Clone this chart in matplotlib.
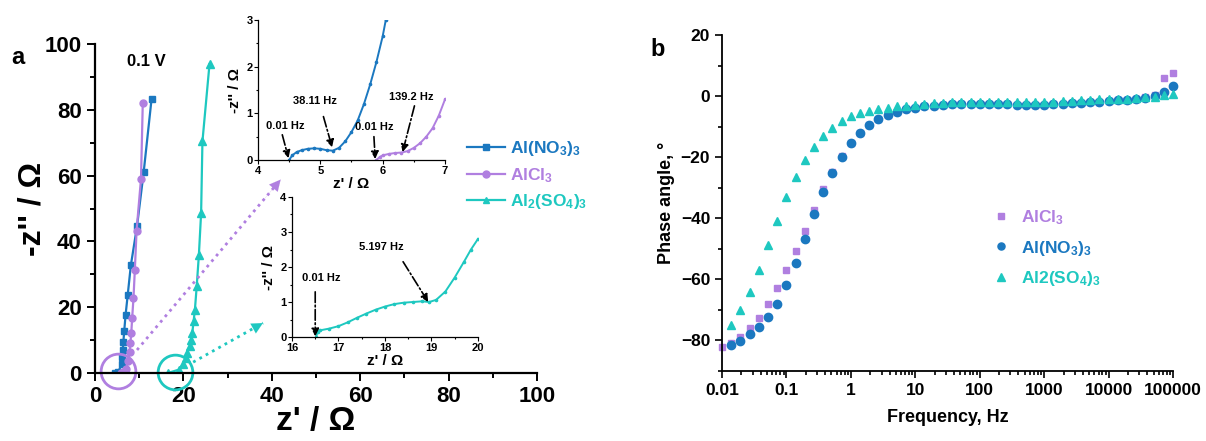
"""Nyquist plots (a) and Bode phase plot (b) for three Al electrolytes at 0.1 V."""
import numpy as np
import matplotlib
matplotlib.use('Agg')
import matplotlib.pyplot as plt
from matplotlib.ticker import MultipleLocator, FixedLocator, LogLocator, NullFormatter
from matplotlib.lines import Line2D

plt.rcParams['font.family'] = ['Liberation Sans', 'DejaVu Sans']
plt.rcParams['font.weight'] = 'bold'
plt.rcParams['axes.labelweight'] = 'bold'
plt.rcParams['mathtext.fontset'] = 'custom'
plt.rcParams['mathtext.rm'] = 'Liberation Sans:bold'
plt.rcParams['mathtext.it'] = 'Liberation Sans:bold'
plt.rcParams['mathtext.bf'] = 'Liberation Sans:bold'

BLUE = '#1b78c0'
PURPLE = '#b07fe0'
CYAN = '#1ec8c0'

# ---- panel a, main Nyquist data (z' , -z'') ----
no3_re = [4.5, 5.2, 6.0, 6.2, 6.3, 6.4, 6.6, 6.9, 7.4, 8.1, 9.5, 11.0, 12.8]
no3_im = [0.0, 0.2, 2.6, 5.0, 7.0, 9.3, 12.7, 17.5, 23.8, 32.7, 44.6, 61.0, 83.4]
cl_re = [5.9, 6.4, 7.0, 7.5, 7.8, 8.0, 8.2, 8.4, 8.7, 9.0, 9.4, 10.4, 10.8]
cl_im = [0.0, 0.2, 1.3, 3.5, 6.5, 9.1, 12.2, 16.7, 22.8, 31.2, 43.3, 59.0, 82.0]
so4_re = [16.5, 18.9, 20.0, 20.5, 20.9, 21.4, 21.8, 22.0, 22.3, 22.6, 23.0, 23.5, 24.0, 24.3, 25.9]
so4_im = [0.0, 1.0, 2.8, 4.6, 6.1, 8.1, 10.1, 12.2, 15.7, 19.3, 26.3, 36.0, 48.6, 70.4, 93.9]

# ---- inset 1 (high-frequency region, NO3 and Cl) ----
in_no3_re = [4.50, 4.55, 4.62, 4.70, 4.80, 4.90, 5.00, 5.10, 5.20, 5.30, 5.40, 5.50,
             5.60, 5.70, 5.80, 5.90, 6.00, 6.05]
in_no3_im = [0.00, 0.10, 0.17, 0.21, 0.24, 0.25, 0.24, 0.21, 0.20, 0.26, 0.40, 0.60,
             0.85, 1.20, 1.62, 2.10, 2.65, 3.00]
in_cl_re = [5.90, 5.95, 6.00, 6.10, 6.20, 6.30, 6.40, 6.50, 6.60, 6.70, 6.80, 6.90, 7.00]
in_cl_im = [0.00, 0.06, 0.10, 0.13, 0.15, 0.16, 0.19, 0.26, 0.36, 0.50, 0.68, 0.95, 1.30]

# ---- inset 2 (high-frequency region, SO4) ----
in_so4_re = [16.52, 16.55, 16.60, 16.80, 17.00, 17.20, 17.40, 17.60, 17.80, 18.00, 18.20,
             18.40, 18.60, 18.80, 18.95, 19.10, 19.30, 19.50, 19.70, 19.85, 20.00]
in_so4_im = [0.00, 0.15, 0.19, 0.24, 0.31, 0.42, 0.55, 0.67, 0.78, 0.87, 0.94,
             0.98, 1.00, 1.02, 1.00, 1.06, 1.30, 1.70, 2.15, 2.50, 2.80]

# ---- panel b, phase angle vs frequency ----
freq = [0.01, 0.0139, 0.0193, 0.0268, 0.0373, 0.0518, 0.072,
        0.1, 0.139, 0.193, 0.268, 0.373, 0.518, 0.72,
        1, 1.39, 1.93, 2.68, 3.73, 5.18, 7.2,
        10, 13.9, 19.3, 26.8, 37.3, 51.8, 72,
        100, 139, 193, 268, 373, 518, 720,
        1000, 1390, 1930, 2680, 3730, 5180, 7200,
        10000, 13900, 19300, 26800, 37300, 51800, 72000,
        100000]
phase_cl = [-82.0, -80.7, -78.8, -76.0, -72.6, -68.2, -62.9,
            -56.9, -50.6, -44.1, -37.3, -30.5, -24.8, -19.6,
            -15.4, -12.1, -9.5, -7.5, -6.1, -5.1, -4.3,
            -3.8, -3.4, -3.1, -2.9, -2.7, -2.6, -2.6,
            -2.6, -2.6, -2.7, -2.7, -2.8, -2.8, -2.8,
            -2.8, -2.7, -2.6, -2.4, -2.2, -2.0, -1.8,
            -1.6, -1.4, -1.2, -0.9, -0.4, 0.5, 5.8,
            7.7]
# NO3 and SO4 start at the second frequency
phase_no3 = [-81.5, -80.1, -78.0, -75.7, -72.2, -68.1,
             -61.8, -54.8, -46.9, -38.6, -31.3, -25.3, -19.8,
             -15.5, -12.2, -9.5, -7.5, -6.2, -5.1, -4.3,
             -3.8, -3.4, -3.1, -2.9, -2.7, -2.6, -2.6,
             -2.6, -2.6, -2.7, -2.7, -2.8, -2.8, -2.8,
             -2.8, -2.7, -2.6, -2.4, -2.2, -2.0, -1.8,
             -1.6, -1.4, -1.2, -0.9, -0.5, 0.0, 1.5,
             3.3]
phase_so4 = [-74.8, -70.0, -64.1, -56.9, -48.8, -40.8,
             -33.1, -26.4, -20.9, -16.6, -13.1, -10.3, -8.1,
             -6.4, -5.4, -4.8, -4.3, -3.8, -3.4, -3.2,
             -3.0, -2.7, -2.4, -2.2, -2.0, -1.9, -1.9,
             -1.9, -1.9, -1.9, -2.0, -2.0, -2.0, -2.0,
             -1.9, -1.8, -1.7, -1.6, -1.4, -1.3, -1.1,
             -1.0, -0.9, -0.8, -0.6, -0.4, -0.2, 0.2,
             0.6]

fig = plt.figure(figsize=(12.06, 4.41), dpi=100)


def style_axis(ax, lw, size, width):
    for side in ('top', 'right'):
        ax.spines[side].set_visible(False)
    for side in ('left', 'bottom'):
        ax.spines[side].set_linewidth(lw)
    ax.tick_params(which='major', direction='out', length=size, width=width)
    ax.tick_params(which='minor', direction='out', length=size * 0.55, width=width)


def dotted_arrow(ax, start, end, color):
    ax.plot([start[0], end[0]], [start[1], end[1]], color=color, lw=2,
            ls=(0, (1, 1.6)), clip_on=False)
    back = (end[0] - 0.12 * (end[0] - start[0]), end[1] - 0.12 * (end[1] - start[1]))
    ax.annotate('', xy=end, xytext=back,
                arrowprops=dict(arrowstyle='-|>', lw=0.1, color=color,
                                mutation_scale=20, shrinkA=0, shrinkB=0))


# ---------- panel a ----------
ax = fig.add_axes([0.0788, 0.1542, 0.3665, 0.746])
ax.plot(no3_re, no3_im, '-s', color=BLUE, lw=1.6, ms=5)
ax.plot(cl_re, cl_im, '-o', color=PURPLE, lw=1.6, ms=5)
ax.plot(so4_re, so4_im, '-^', color=CYAN, lw=1.6, ms=5.5)
ax.set_xlim(0, 100)
ax.set_ylim(0, 100)
ax.xaxis.set_major_locator(MultipleLocator(20))
ax.xaxis.set_minor_locator(MultipleLocator(10))
ax.yaxis.set_major_locator(MultipleLocator(20))
ax.yaxis.set_minor_locator(MultipleLocator(10))
style_axis(ax, 1.6, 6, 1.4)
ax.tick_params(labelsize=16)
ax.set_xlabel("z' / \u03a9", fontsize=24, labelpad=-1)
ax.set_ylabel("-z'' / \u03a9", fontsize=23, labelpad=-2)

# circles marking the zoomed regions
ax.plot([5.2], [0.6], 'o', ms=25, mfc='none', mec=PURPLE, mew=2, clip_on=False)
ax.plot([18.1], [0.3], 'o', ms=25, mfc='none', mec=CYAN, mew=2, clip_on=False)
dotted_arrow(ax, (9.5, 7.0), (42.0, 58.8), PURPLE)
dotted_arrow(ax, (22.2, 3.3), (38.0, 15.2), CYAN)

handles = [Line2D([], [], color=BLUE, marker='s', lw=1.6, ms=5),
           Line2D([], [], color=PURPLE, marker='o', lw=1.6, ms=5),
           Line2D([], [], color=CYAN, marker='^', lw=1.6, ms=5)]
labels = [r'Al(NO$_3$)$_3$', r'AlCl$_3$', r'Al$_2$(SO$_4$)$_3$']
fig.legend(handles, labels, loc='upper left', bbox_to_anchor=(0.374, 0.72),
           frameon=False, fontsize=12.5, labelcolor='linecolor', handlelength=2.2,
           handletextpad=0.3, labelspacing=0.45)

fig.text(0.015, 0.87, 'a', fontsize=17, ha='center', va='center')
fig.text(0.121, 0.86, '0.1 V', fontsize=12, ha='center', va='center')


def inset_annot(axi, text, txy, start, end):
    axi.text(txy[0], txy[1], text, fontsize=8, ha='center', va='center')
    axi.annotate('', xy=end, xytext=start,
                 arrowprops=dict(arrowstyle='-|>', linestyle='-.', lw=1.2, color='k',
                                 mutation_scale=11, shrinkA=0, shrinkB=0))


# ---------- inset 1 ----------
ax1 = fig.add_axes([0.2139, 0.6372, 0.1551, 0.3174])
ax1.plot(in_no3_re, in_no3_im, '-o', color=BLUE, lw=1.4, ms=1.6)
ax1.plot(in_cl_re, in_cl_im, '-o', color=PURPLE, lw=1.4, ms=1.6)
ax1.set_xlim(4, 7)
ax1.set_ylim(0, 3)
ax1.xaxis.set_major_locator(MultipleLocator(1))
ax1.xaxis.set_minor_locator(MultipleLocator(0.5))
ax1.yaxis.set_major_locator(MultipleLocator(1))
ax1.yaxis.set_minor_locator(MultipleLocator(0.5))
style_axis(ax1, 0.9, 3, 0.8)
ax1.tick_params(labelsize=8, pad=1)
ax1.set_xlabel("z' / \u03a9", fontsize=11, labelpad=1)
ax1.set_ylabel("-z'' / \u03a9", fontsize=11, labelpad=3)
inset_annot(ax1, '0.01 Hz', (4.43, 0.72), (4.39, 0.54), (4.49, 0.04))
inset_annot(ax1, '38.11 Hz', (4.92, 1.27), (5.05, 0.93), (5.19, 0.27))
inset_annot(ax1, '0.01 Hz', (5.86, 0.70), (5.86, 0.50), (5.88, 0.02))
inset_annot(ax1, '139.2 Hz', (6.46, 1.34), (6.51, 1.16), (6.32, 0.17))

# ---------- inset 2 ----------
ax2 = fig.add_axes([0.2421, 0.2358, 0.1542, 0.3175])
ax2.plot(in_so4_re, in_so4_im, '-o', color=CYAN, lw=1.4, ms=1.6)
ax2.set_xlim(16, 20)
ax2.set_ylim(0, 4)
ax2.xaxis.set_major_locator(MultipleLocator(1))
ax2.xaxis.set_minor_locator(MultipleLocator(0.5))
ax2.yaxis.set_major_locator(MultipleLocator(1))
ax2.yaxis.set_minor_locator(MultipleLocator(0.5))
style_axis(ax2, 0.9, 3, 0.8)
ax2.tick_params(labelsize=8, pad=1)
ax2.set_xlabel("z' / \u03a9", fontsize=11, labelpad=1)
ax2.set_ylabel("-z'' / \u03a9", fontsize=11, labelpad=3)
inset_annot(ax2, '0.01 Hz', (16.64, 1.70), (16.5, 1.29), (16.5, 0.02))
inset_annot(ax2, '5.197 Hz', (17.93, 2.58), (18.39, 2.15), (18.93, 1.0))

# ---------- panel b ----------
axb = fig.add_axes([0.5987, 0.1587, 0.3739, 0.7619])
axb.plot(freq, phase_cl, 's', color=PURPLE, ms=5, ls='none', label=r'AlCl$_3$',
         clip_on=False)
axb.plot(freq[1:], phase_no3, 'o', color=BLUE, ms=6, ls='none', label=r'Al(NO$_3$)$_3$',
         clip_on=False)
axb.plot(freq[1:], phase_so4, '^', color=CYAN, ms=6, ls='none', label=r'Al2(SO$_4$)$_3$',
         clip_on=False)
axb.set_xscale('log')
axb.set_xlim(0.01, 100000)
axb.set_ylim(-90, 20)
decades = [0.01, 0.1, 1, 10, 100, 1000, 10000, 100000]
axb.xaxis.set_major_locator(FixedLocator(decades))
axb.set_xticklabels(['0.01', '0.1', '1', '10', '100', '1000', '10000', '100000'])
axb.xaxis.set_minor_locator(LogLocator(base=10, subs=np.arange(2, 10), numticks=20))
axb.xaxis.set_minor_formatter(NullFormatter())
axb.yaxis.set_major_locator(MultipleLocator(20))
axb.yaxis.set_minor_locator(MultipleLocator(10))
style_axis(axb, 1.3, 5, 1.2)
axb.tick_params(labelsize=12.5)
axb.set_xlabel('Frequency, Hz', fontsize=13, labelpad=8)
axb.set_ylabel('Phase angle, \u00b0', fontsize=13, labelpad=4)
axb.legend(loc='upper left', bbox_to_anchor=(0.56, 0.53), frameon=False, fontsize=12.5,
           labelcolor='markerfacecolor', handletextpad=0.6, labelspacing=0.65,
           markerscale=0.85, handlelength=1.2)
fig.text(0.545, 0.887, 'b', fontsize=17, ha='center', va='center')

fig.savefig('out.png', dpi=100)
